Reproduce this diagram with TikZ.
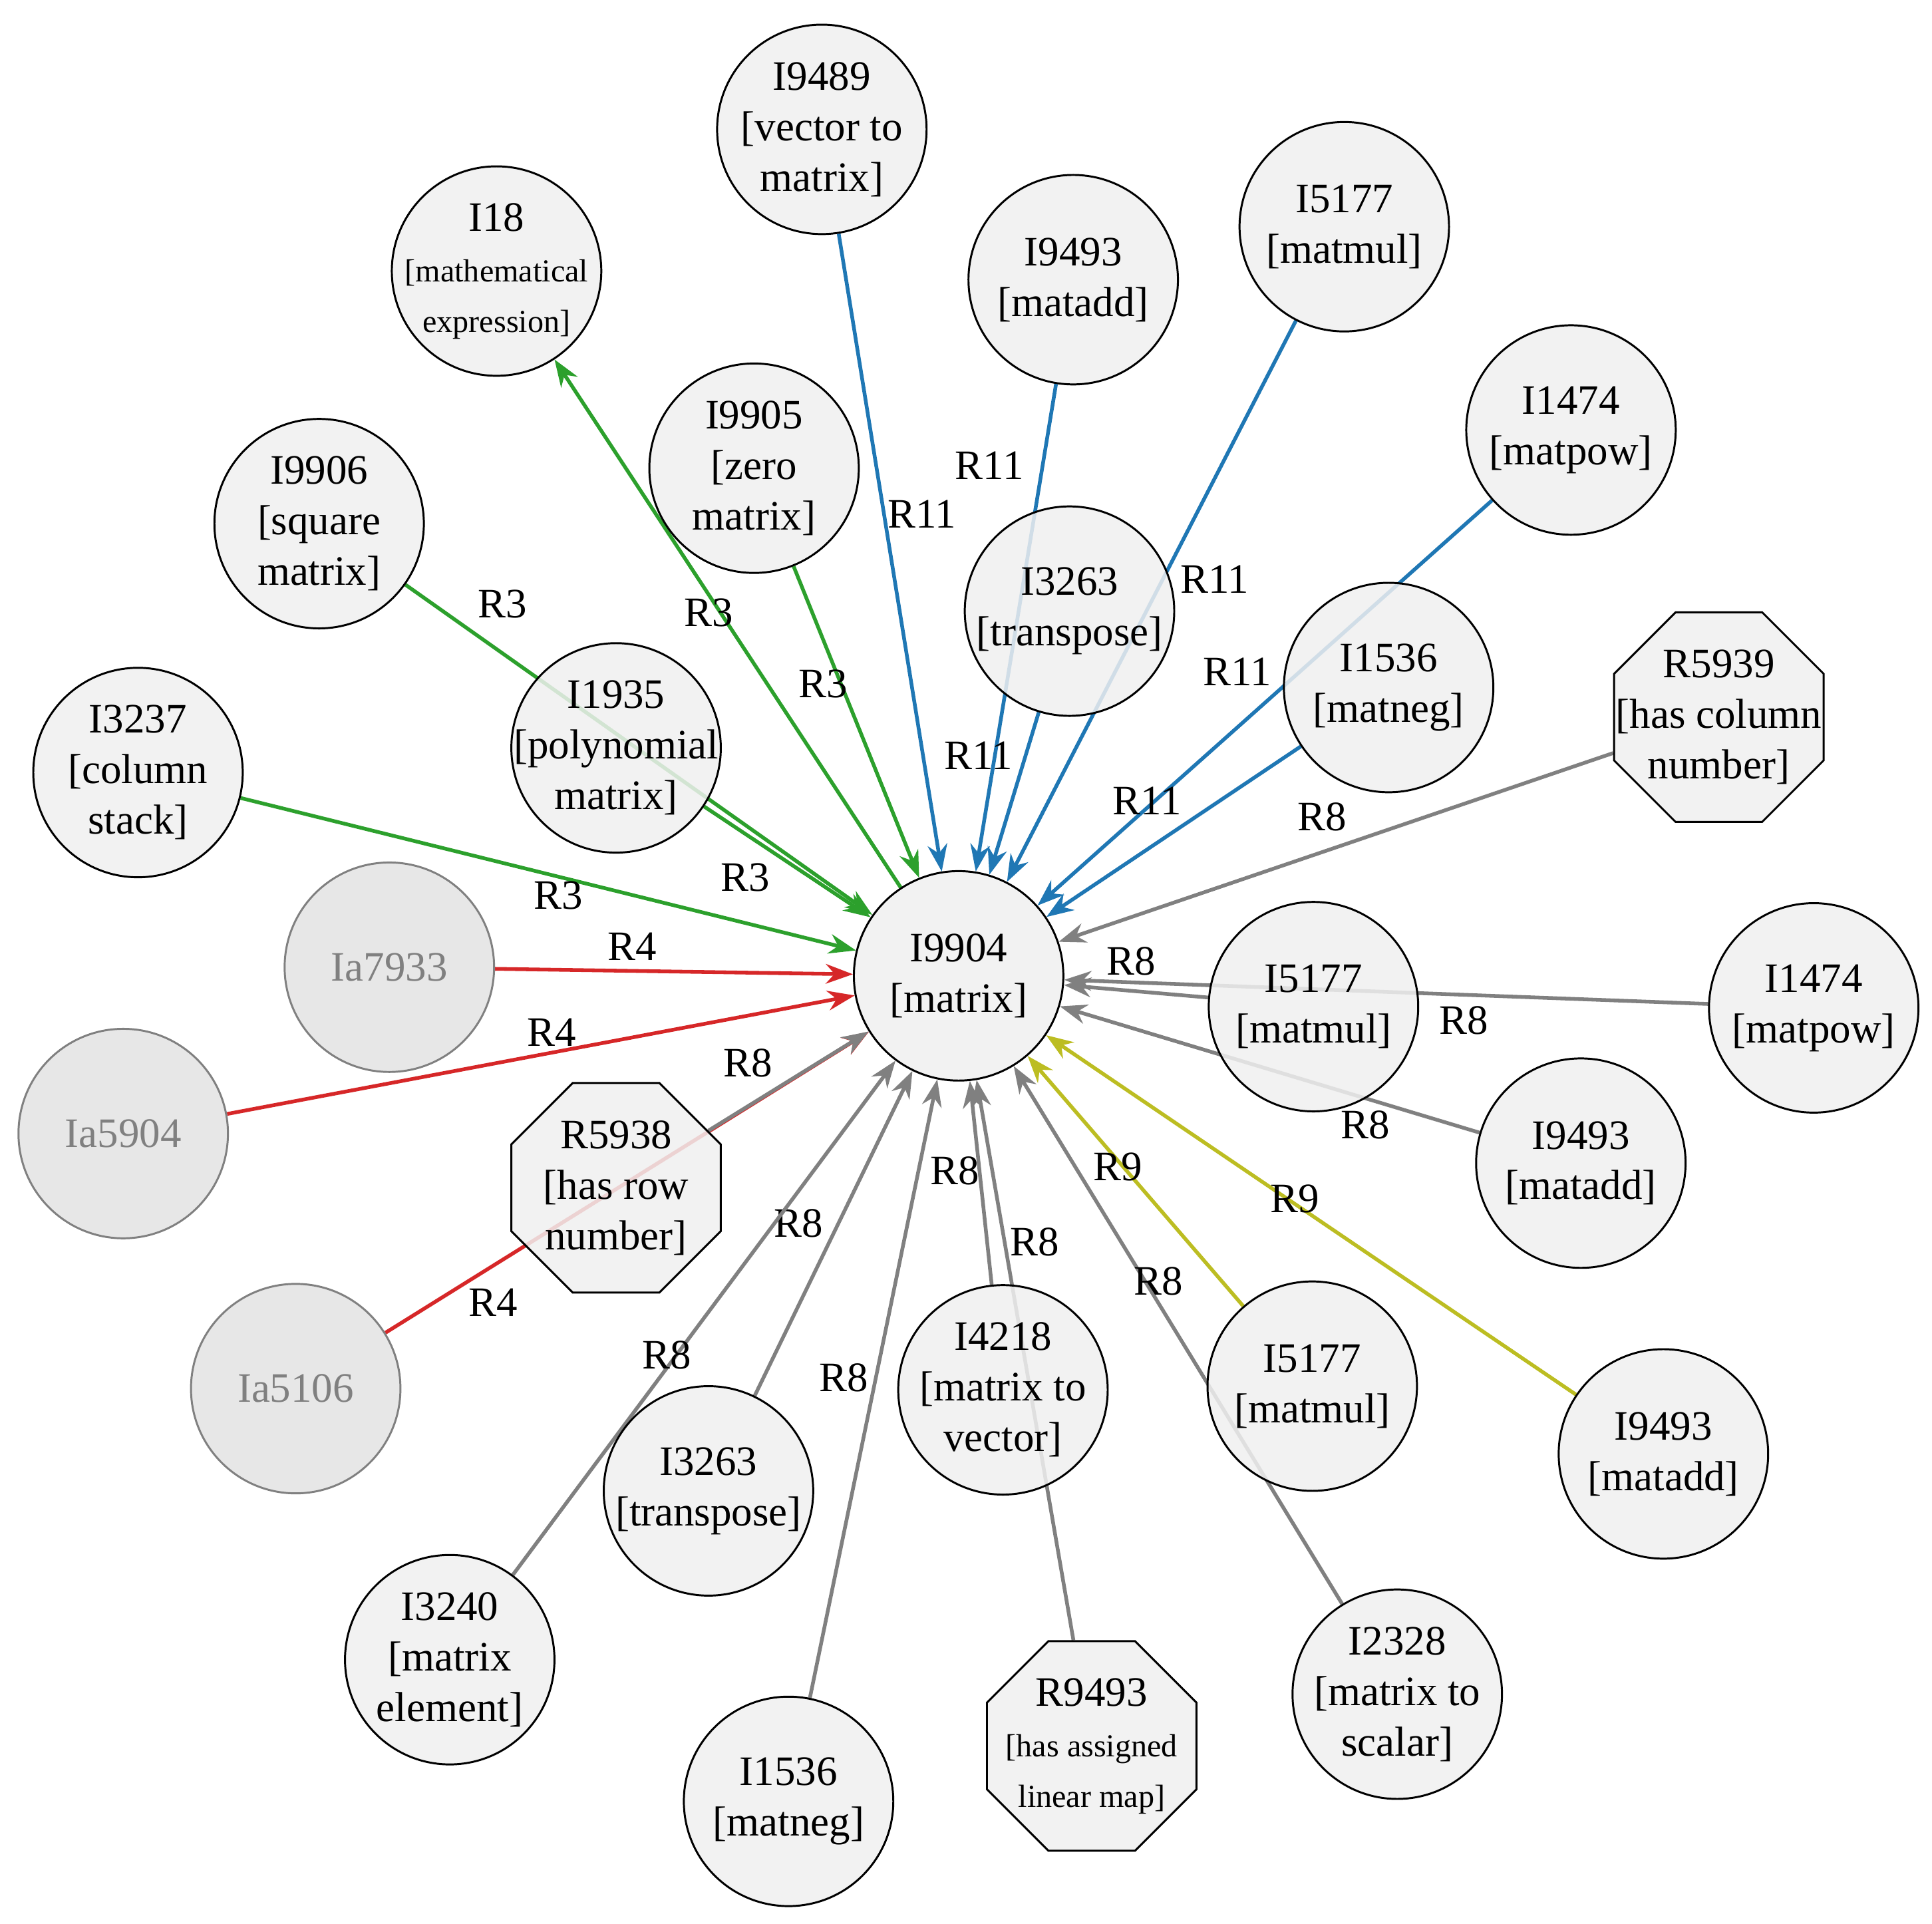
\documentclass[tikz,border=0pt]{standalone}
\usepackage{fontspec}
\setmainfont{Liberation Serif}
\usetikzlibrary{shapes.geometric,arrows.meta}
\definecolor{cg}{RGB}{44,160,44}
\definecolor{cb}{RGB}{31,119,180}
\definecolor{cr}{RGB}{214,39,40}
\definecolor{cy}{RGB}{188,189,34}
\definecolor{cgr}{RGB}{128,128,128}
\pgfdeclarelayer{bg}
\pgfsetlayers{bg,main}
\begin{document}
\begin{tikzpicture}[x=0.5pt,y=-0.5pt,
 n/.style={circle,draw=black,line width=0.8pt,fill=gray!12,fill opacity=0.85,text opacity=1,minimum size=85pt,inner sep=-10pt,align=center,font=\fontsize{17}{20.5}\selectfont},
 g/.style={n,draw=gray,fill=gray!22,text=gray},
 o/.style={n,regular polygon,regular polygon sides=8,minimum size=92pt,inner sep=-20pt},
 e/.style={line width=1.5pt,-{Stealth[length=11pt,width=8pt]}},
 l/.style={font=\fontsize{17}{20}\selectfont,inner sep=1pt}]
\useasboundingbox (0,0) rectangle (1568,1561);
\newcommand\sml{\fontsize{13}{20}\selectfont}
\node[n] (m) at (778,792) {I9904\\{}[matrix]};
\node[n] (a9489) at (667,105) {I9489\\{}[vector to\\matrix]};
\node[n] (a18) at (403,220) {I18\\{\sml[mathematical}\\{\sml expression]}};
\node[n] (a9493a) at (871,227) {I9493\\{}[matadd]};
\node[n] (a5177a) at (1091,184) {I5177\\{}[matmul]};
\node[n] (a1474a) at (1275,349) {I1474\\{}[matpow]};
\node[n] (a9905) at (612,380) {I9905\\{}[zero\\matrix]};
\node[n] (a9906) at (259,425) {I9906\\{}[square\\matrix]};
\node[n] (a3263a) at (868,496) {I3263\\{}[transpose]};
\node[n] (a1536a) at (1127,558) {I1536\\{}[matneg]};
\node[o] (aR5939) at (1395,582) {R5939\\{}[has column\\number]};
\node[n] (a3237) at (112,627) {I3237\\{}[column\\stack]};
\node[n] (a1935) at (500,607) {I1935\\{}[polynomial\\matrix]};
\node[g] (aa7933) at (316,785) {Ia7933};
\node[g] (aa5904) at (100,920) {Ia5904};
\node[n] (a5177b) at (1066,817) {I5177\\{}[matmul]};
\node[n] (a1474b) at (1472,818) {I1474\\{}[matpow]};
\node[n] (a9493b) at (1283,944) {I9493\\{}[matadd]};
\node[o] (aR5938) at (500,964) {R5938\\{}[has row\\number]};
\node[g] (aa5106) at (240,1127) {Ia5106};
\node[n] (a4218) at (814,1128) {I4218\\{}[matrix to\\vector]};
\node[n] (a5177c) at (1065,1125) {I5177\\{}[matmul]};
\node[n] (a9493c) at (1350,1180) {I9493\\{}[matadd]};
\node[n] (a3263b) at (575,1210) {I3263\\{}[transpose]};
\node[n] (a3240) at (365,1347) {I3240\\{}[matrix\\element]};
\node[n] (a1536b) at (640,1462) {I1536\\{}[matneg]};
\node[o] (aR9493) at (886,1417) {R9493\\{\sml[has assigned}\\{\sml linear map]}};
\node[n] (a2328) at (1134,1375) {I2328\\{}[matrix to\\scalar]};
\begin{pgfonlayer}{bg}
\def\E#1#2#3#4{\draw[e,#1] (#2) -- (m) node[l,text=black,at={(#3)}] {#4};}
\E{cg}{a9906}{408,490}{R3}
\draw[e,cg] (m) -- (a18) node[l,text=black,at={(575,497)}] {R3};
\E{cg}{a9905}{668,555}{R3}
\E{cg}{a3237}{453,727}{R3}
\E{cg}{a1935}{605,712}{R3}
\E{cb}{a9489}{748,417}{R11}
\E{cb}{a9493a}{803,378}{R11}
\E{cb}{a5177a}{986,470}{R11}
\E{cb}{a1474a}{1004,545}{R11}
\E{cb}{a3263a}{794,613}{R11}
\E{cb}{a1536a}{931,650}{R11}
\E{cr}{aa7933}{513,768}{R4}
\E{cr}{aa5904}{448,838}{R4}
\E{cr}{aa5106}{400,1057}{R4}
\E{cgr}{aR5939}{1073,663}{R8}
\E{cgr}{a5177b}{918,780}{R8}
\E{cgr}{a1474b}{1188,828}{R8}
\E{cgr}{a9493b}{1108,913}{R8}
\E{cgr}{aR5938}{607,863}{R8}
\E{cgr}{a3263b}{648,993}{R8}
\E{cgr}{a3240}{541,1100}{R8}
\E{cgr}{a1536b}{685,1118}{R8}
\E{cgr}{a4218}{775,950}{R8}
\E{cgr}{aR9493}{840,1008}{R8}
\E{cgr}{a2328}{940,1040}{R8}
\E{cy}{a5177c}{907,947}{R9}
\E{cy}{a9493c}{1051,973}{R9}
\end{pgfonlayer}
\end{tikzpicture}
\end{document}
